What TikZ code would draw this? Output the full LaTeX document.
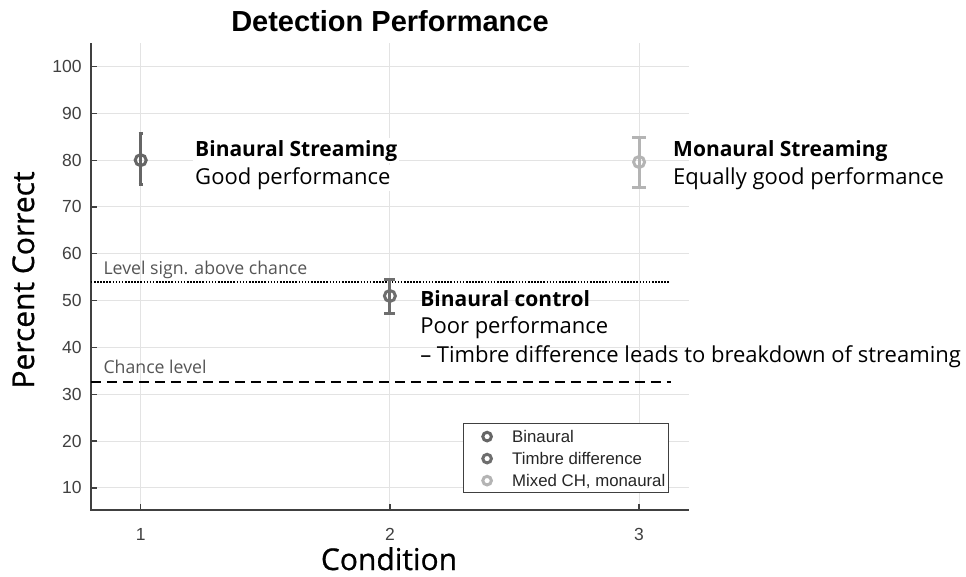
\documentclass[tikz,border=0pt]{standalone}
\usepackage{fontspec}
\setmainfont{Liberation Sans}
\newfontfamily\segoe{Open Sans}
\newfontfamily\segoesemi[FakeBold=0.8]{Open Sans}
\definecolor{gridgray}{HTML}{E3E3E3}
\definecolor{axisgray}{HTML}{404040}
\definecolor{binaural}{HTML}{666666}
\definecolor{timbre}{HTML}{6E6E6E}
\definecolor{mixed}{HTML}{B4B4B4}
\definecolor{notegray}{HTML}{555555}

\begin{document}
\begin{tikzpicture}[x=1pt,y=1pt,
	gridline/.style={gridgray,line width=1pt},
	axisline/.style={axisgray,line width=1.3pt},
	errbar/.style={line width=3pt},
	ticklabel/.style={font=\fontsize{17.5}{17.5}\selectfont,text=axisgray,inner sep=0pt},
	note/.style={font=\segoe\fontsize{22}{22}\selectfont,anchor=base west,inner sep=0pt},
	headnote/.style={note,font=\segoe\bfseries\fontsize{21}{21}\selectfont},
	levelnote/.style={font=\segoe\fontsize{17.7}{17.7}\selectfont,text=notegray,anchor=base west,inner sep=0pt},
	legtext/.style={font=\fontsize{16.8}{16.8}\selectfont,text=black!85,anchor=base west,inner sep=0pt}]
	\useasboundingbox (0,0) rectangle (966,576);
	% data frame: condition along x, percent correct along y
	\begin{scope}[shift={(-108.5,41.2)},x=249.2pt,y=4.683pt]
		\foreach \v in {10,20,...,100}
			\draw[gridline] (0.8,\v) -- (3.2,\v);
		\foreach \c in {1,2,3}
			\draw[gridline] (\c,5.3) -- (\c,105);
		\draw[axisline] (0.8,105) -- (0.8,5.3) -- (3.2,5.3);
		\foreach \v in {10,20,...,100} {
			\draw[axisline] (0.8,\v) -- ++(6pt,0);
			\node[ticklabel,anchor=base east] (ytick\v) at ([xshift=-9pt,yshift=-6pt]0.8,\v) {\v};
		}
		\foreach \c in {1,2,3} {
			\draw[axisline] (\c,5.3) -- ++(0,6pt);
			\node[ticklabel,anchor=base] (xtick\c) at ([yshift=-31pt]\c,5.3) {\c};
		}
		% significance and chance levels
		\draw[line width=1.9pt,dash pattern=on 1.6pt off 1.5pt] (0.8,53.9) -- (3.12,53.9);
		\draw[line width=1.9pt,dash pattern=on 10pt off 6pt] (0.8,32.7) -- (3.128,32.7);
		\node[levelnote] (sigtext) at (0.850,55.6) {Level sign. above chance};
		\node[levelnote] (chancetext) at (0.850,34.5) {Chance level};
		% means with error bars
		\foreach \c/\m/\lo/\hi/\col/\cap in {1/80/74.7/85.6/binaural/2,2/51/47.2/54.6/timbre/5.5,3/79.6/74.1/84.9/mixed/7} {
			\draw[errbar,\col] (\c,\lo) -- (\c,\hi);
			\draw[errbar,\col] ([xshift=-\cap pt]\c,\hi) -- ([xshift=\cap pt]\c,\hi);
			\draw[errbar,\col] ([xshift=-\cap pt]\c,\lo) -- ([xshift=\cap pt]\c,\lo);
			\draw[\col,line width=3pt] (\c,\m) circle[radius=5.5pt];
		}
		% annotations
		\node[headnote,fill=white,inner sep=2pt] (binhead) at (1.21,80.87) {Binaural Streaming};
		\node[note,fill=white,inner sep=2pt] (bintext) at (1.21,74.89) {Good performance};
		\node[headnote] (monhead) at (3.136,80.8) {Monaural Streaming};
		\node[note] (montext) at (3.136,74.89) {Equally good performance};
		\node[headnote] (ctrlhead) at (2.121,48.75) {Binaural control};
		\node[note] (ctrltext) at (2.121,42.99) {Poor performance};
		\node[note] (ctrlmore) at (2.121,36.8) {– Timbre difference leads to breakdown of streaming};
		% legend
		\node[draw=axisgray,line width=1pt,fill=white,minimum width=205pt,minimum height=69pt,anchor=north west,inner sep=0pt] (legbox) at (2.293,23.87) {};
		\foreach \v/\col/\lab [count=\i] in {20.97/binaural/Binaural,16.27/timbre/Timbre difference,11.57/mixed/{Mixed CH, monaural}} {
			\draw[\col,line width=3pt] (2.39,\v) circle[radius=4.3pt];
			\node[legtext] (leg\i) at ([yshift=-6pt]2.49,\v) {\lab};
		}
	\end{scope}
	% titles
	\node[font=\bfseries\fontsize{29}{29}\selectfont,anchor=base,inner sep=0pt] (title) at (390,544.3) {Detection Performance};
	\node[font=\segoesemi\fontsize{30}{30}\selectfont,rotate=90,anchor=base,inner sep=0pt] (ylabel) at (34,296) {Percent Correct};
	\node[font=\segoesemi\fontsize{30}{30}\selectfont,anchor=base,inner sep=0pt] (xlabel) at (389,6) {Condition};
\end{tikzpicture}
\end{document}
